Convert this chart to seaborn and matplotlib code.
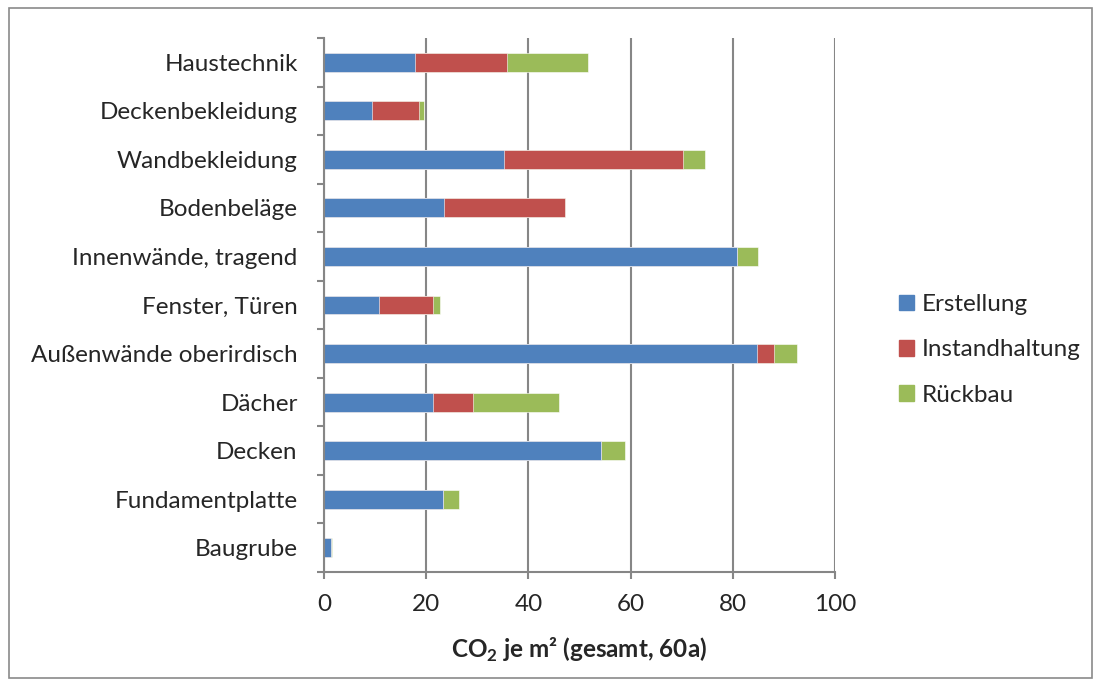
import pandas as pd
import numpy as np
import matplotlib.pyplot as plt
import seaborn as sns
from matplotlib.patches import Patch, Rectangle

# data
bauteile = ['Haustechnik', 'Deckenbekleidung', 'Wandbekleidung', 'Bodenbeläge',
            'Innenwände, tragend', 'Fenster, Türen', 'Außenwände oberirdisch',
            'Dächer', 'Decken', 'Fundamentplatte', 'Baugrube']
erstellung = [17.9, 9.3, 35.2, 23.5, 80.9, 10.7, 84.8, 21.4, 54.3, 23.3, 1.4]
instandhaltung = [18.0, 9.2, 35.0, 23.6, 0.0, 10.6, 3.3, 7.8, 0.0, 0.0, 0.0]
rueckbau = [15.8, 1.1, 4.3, 0.0, 4.0, 1.3, 4.5, 16.7, 4.6, 3.2, 0.1]

farben = {'Erstellung': '#4F81BD', 'Instandhaltung': '#C0504D', 'Rückbau': '#9BBB59'}

sns.set_style('white')
plt.rcParams['font.family'] = ['Lato', 'DejaVu Sans']
plt.rcParams['mathtext.fontset'] = 'custom'
plt.rcParams['mathtext.rm'] = 'Lato'
plt.rcParams['mathtext.bf'] = 'Lato:bold'

fs = 17.5

df = pd.DataFrame({'Bauteil': bauteile, 'Erstellung': erstellung,
                   'Instandhaltung': instandhaltung, 'Rückbau': rueckbau})
df['s1'] = df['Erstellung']
df['s2'] = df['s1'] + df['Instandhaltung']
df['s3'] = df['s2'] + df['Rückbau']

fig = plt.figure(figsize=(11.01, 6.86), dpi=100)
ax = fig.add_axes([0.2943, 0.1662, 0.4641, 0.7784])

# stacked bars: draw the totals first, then cover them
for col, name in [('s3', 'Rückbau'), ('s2', 'Instandhaltung'), ('s1', 'Erstellung')]:
    sns.barplot(data=df, x=col, y='Bauteil', order=bauteile, color=farben[name],
                saturation=1, width=0.39, edgecolor='white', linewidth=0.4, ax=ax)

ax.set_xlim(0, 100)
ax.set_ylim(10.5, -0.5)
ax.set_xticks(np.arange(0, 101, 20))
ax.xaxis.grid(True, color='#868686', linewidth=1.5)
ax.set_axisbelow(True)
for s in ['top', 'right']:
    ax.spines[s].set_visible(False)
for s in ['left', 'bottom']:
    ax.spines[s].set_color('#868686')
    ax.spines[s].set_linewidth(1.5)

ax.set_yticks(np.arange(-0.5, 11, 1), minor=True)
ax.tick_params(axis='y', which='major', length=0, pad=19, labelsize=fs)
ax.tick_params(axis='y', which='minor', left=True, length=5, width=1.5, color='#868686')
ax.tick_params(axis='x', bottom=True, length=5, width=1.5, color='#868686',
               labelsize=fs, pad=11)
ax.set_ylabel('')
ax.set_xlabel(r'CO$_\mathbf{2}$ je m² (gesamt, 60a)', fontsize=fs,
              fontweight='bold', labelpad=15)

handles = [Patch(color=farben[k]) for k in ['Erstellung', 'Instandhaltung', 'Rückbau']]
fig.legend(handles, ['Erstellung', 'Instandhaltung', 'Rückbau'], loc='center left',
           bbox_to_anchor=(0.797, 0.49), frameon=False, fontsize=fs,
           handlelength=0.62, handleheight=0.62, handletextpad=0.3, labelspacing=1.0)

fig.patches.append(Rectangle((0.008, 0.012), 0.984, 0.976, transform=fig.transFigure,
                             fill=False, edgecolor='#8a8a8a', linewidth=1.2))

fig.savefig('out.png', dpi=100)
